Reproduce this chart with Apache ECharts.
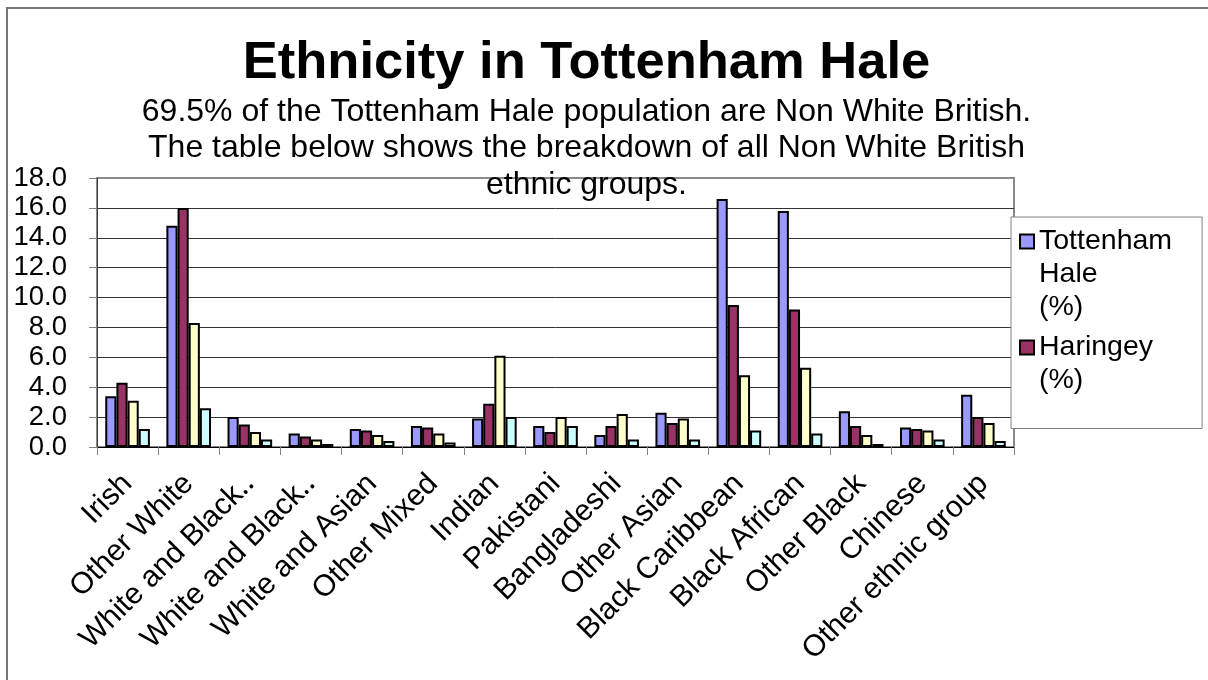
<!DOCTYPE html>
<html>
<head>
<meta charset="utf-8">
<title>Ethnicity in Tottenham Hale</title>
<script src="https://cdn.jsdelivr.net/npm/echarts@6/dist/echarts.min.js"></script>
<style>
  html, body { margin: 0; padding: 0; background: #ffffff; }
  #chart { width: 1208px; height: 680px; }
</style>
</head>
<body>
<div id="chart"></div>
<script>
// Ethnic groups (non White British), percentage of population
const categories = [
  'Irish', 'Other White', 'White and Black Caribbean', 'White and Black African',
  'White and Asian', 'Other Mixed', 'Indian', 'Pakistani', 'Bangladeshi',
  'Other Asian', 'Black Caribbean', 'Black African', 'Other Black', 'Chinese',
  'Other ethnic group'
];
const tickLabels = [
  'Irish', 'Other White', 'White and Black\u2025', 'White and Black\u2025',
  'White and Asian', 'Other Mixed', 'Indian', 'Pakistani', 'Bangladeshi',
  'Other Asian', 'Black Caribbean', 'Black African', 'Other Black', 'Chinese',
  'Other ethnic group'
];
const tottenhamHale = [3.4, 14.8, 2.0, 0.9, 1.2, 1.4, 1.9, 1.4, 0.8, 2.3, 16.6, 15.8, 2.4, 1.3, 3.5];
const haringey      = [4.3, 16.0, 1.5, 0.7, 1.1, 1.3, 2.9, 1.0, 1.4, 1.6, 9.5, 9.2, 1.4, 1.2, 2.0];
const london        = [3.1, 8.3, 1.0, 0.5, 0.8, 0.9, 6.1, 2.0, 2.2, 1.9, 4.8, 5.3, 0.8, 1.1, 1.6];
const england       = [1.2, 2.6, 0.5, 0.2, 0.4, 0.3, 2.0, 1.4, 0.5, 0.5, 1.1, 0.9, 0.2, 0.5, 0.4];

const seriesNames = ['Tottenham Hale (%)', 'Haringey (%)', 'London (%)', 'England (%)'];
const legendText = {
  'Tottenham Hale (%)': 'Tottenham\nHale\n(%)',
  'Haringey (%)': 'Haringey\n(%)'
};
const titleText = 'Ethnicity in Tottenham Hale';
const subtitleText = '69.5% of the Tottenham Hale population are Non White British.\n' +
  'The table below shows the breakdown of all Non White British\nethnic groups.';

const FONT = '"Liberation Sans", Arial, sans-serif';
const colors = ['#9999FF', '#993366', '#FFFFCC', '#CCFFFF'];
const values = [tottenhamHale, haringey, london, england];

const chart = echarts.init(document.getElementById('chart'), null, { renderer: 'canvas' });

chart.setOption({
  animation: false,
  backgroundColor: '#ffffff',
  textStyle: { fontFamily: FONT },
  graphic: [
    {
      type: 'rect', silent: true, z: -10,
      shape: { x: 7, y: 8, width: 1300, height: 800 },
      style: { fill: 'none', stroke: '#777777', lineWidth: 2 }
    },
    {
      type: 'text', silent: true, z: 100, x: 586.5, y: 64,
      style: {
        text: titleText, fontFamily: FONT, fontSize: 52.5, fontWeight: 'bold',
        fill: '#000000', align: 'center', verticalAlign: 'middle'
      }
    },
    {
      type: 'text', silent: true, z: 100, x: 586.5, y: 93.5,
      style: {
        text: subtitleText, fontFamily: FONT, fontSize: 32, lineHeight: 36.7,
        fill: '#000000', align: 'center', verticalAlign: 'top'
      }
    }
  ],
  legend: {
    orient: 'vertical',
    left: 1011, top: 217,
    padding: [7, 30, 14, 8],
    itemWidth: 14, itemHeight: 99, itemGap: -11.5,
    backgroundColor: '#ffffff',
    borderColor: '#808080', borderWidth: 1,
    selectedMode: false,
    itemStyle: { borderColor: '#000000', borderWidth: 2 },
    textStyle: { fontFamily: FONT, fontSize: 28.5, lineHeight: 33, color: '#000000' },
    data: [
      { name: seriesNames[0], icon: 'path://M0,0M0,9.5h14v14h-14zM0,99' },
      { name: seriesNames[1], icon: 'path://M0,0M0,26h14v14h-14zM0,99' }
    ],
    formatter: name => legendText[name]
  },
  grid: {
    left: 97, right: 194, top: 178, bottom: 233,
    show: true, backgroundColor: '#ffffff',
    borderColor: '#8a8a8a', borderWidth: 2,
    containLabel: false, outerBoundsMode: 'none'
  },
  xAxis: {
    type: 'category',
    data: categories,
    axisLine: { show: true, lineStyle: { color: '#000000', width: 1 } },
    axisTick: { show: true, length: 8, lineStyle: { color: '#808080' } },
    axisLabel: {
      interval: 0, rotate: 45, margin: 32,
      fontFamily: FONT, fontSize: 30, color: '#000000',
      formatter: (v, i) => tickLabels[i]
    }
  },
  yAxis: {
    type: 'value',
    min: 0, max: 18, interval: 2,
    axisLine: { show: true, lineStyle: { color: '#404040', width: 1 } },
    axisTick: { show: true, length: 8, lineStyle: { color: '#808080' } },
    axisLabel: {
      margin: 30, fontFamily: FONT, fontSize: 27.5, color: '#000000',
      padding: [6, 0, 0, 0],
      formatter: v => v.toFixed(1)
    },
    splitLine: { show: true, showMaxLine: false, lineStyle: { color: '#333333', width: 1 } }
  },
  series: seriesNames.map((name, k) => ({
    type: 'bar',
    name: name,
    data: values[k],
    barGap: '0%',
    barCategoryGap: '27%',
    itemStyle: { color: colors[k], borderColor: '#000000', borderWidth: 2 }
  }))
});
</script>
</body>
</html>
